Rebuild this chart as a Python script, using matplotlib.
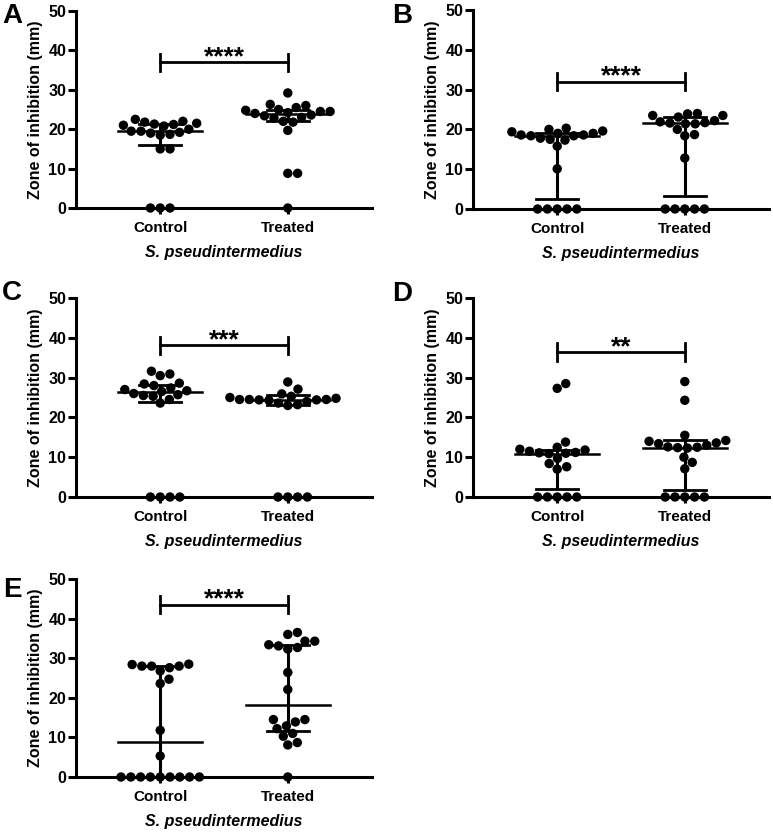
import numpy as np
import matplotlib
matplotlib.use("Agg")
import matplotlib.pyplot as plt

plt.rcParams['font.family'] = ['Liberation Sans', 'DejaVu Sans']
plt.rcParams['font.weight'] = 'bold'

# ---- data ----
panel_labels = ['A', 'B', 'C', 'D', 'E']
groups = ['Control', 'Treated']

control_A = [0, 0, 0, 15.0, 15.0, 18.5, 18.7, 19.0, 19.2, 19.5, 19.5, 20.0,
             20.8, 21.0, 21.2, 21.3, 21.5, 21.8, 22.0, 22.5]
treated_A = [0, 8.8, 8.8, 19.7, 21.8, 22.0, 22.8, 23.0, 23.4, 23.6, 24.0, 24.2,
             24.5, 24.5, 24.8, 25.0, 25.5, 26.0, 26.3, 29.2]
control_B = [0, 0, 0, 0, 0, 10.1, 15.8, 17.3, 17.5, 17.8, 18.4, 18.4, 18.6,
             18.6, 19.0, 19.0, 19.4, 19.6, 20.0, 20.3]
treated_B = [0, 0, 0, 0, 0, 12.8, 18.4, 18.7, 20.0, 21.4, 21.4, 21.6, 21.7,
             21.9, 22.2, 23.1, 23.5, 23.5, 23.9, 24.0]
control_C = [0, 0, 0, 0, 23.6, 24.5, 25.3, 25.5, 25.7, 26.0, 26.5, 26.7, 27.0,
             27.4, 28.0, 28.4, 28.6, 30.5, 30.9, 31.6]
treated_C = [0, 0, 0, 0, 23.0, 23.2, 23.6, 24.0, 24.3, 24.4, 24.4, 24.5, 24.5,
             24.5, 24.8, 25.0, 25.3, 25.9, 27.1, 28.9]
control_D = [0, 0, 0, 0, 0, 7.0, 7.6, 8.4, 9.7, 10.9, 11.0, 11.1, 11.2, 11.5,
             11.8, 12.0, 12.5, 13.8, 27.3, 28.5]
treated_D = [0, 0, 0, 0, 0, 7.1, 8.7, 10.0, 12.3, 12.4, 12.5, 12.6, 13.0, 13.4,
             13.6, 14.0, 14.2, 15.5, 24.3, 29.0]
control_E = [0, 0, 0, 0, 0, 0, 0, 0, 0, 5.3, 11.8, 23.6, 24.7, 26.8, 27.6,
             28.0, 28.0, 28.0, 28.4, 28.5]
treated_E = [0, 8.1, 8.7, 10.3, 11.0, 12.2, 12.9, 13.9, 14.5, 14.5, 22.1, 26.4,
             32.3, 32.7, 33.1, 33.4, 34.3, 34.3, 36.0, 36.5]

# median and interquartile range as drawn (control, treated)
medians = [(19.5, 23.9), (18.3, 21.6), (26.3, 24.4), (10.9, 12.4), (8.8, 18.3)]
q1s = [(16.0, 22.0), (2.6, 3.3), (23.9, 23.2), (1.9, 1.8), (0.0, 11.5)]
q3s = [(21.3, 25.0), (19.0, 23.2), (28.2, 25.6), (11.8, 14.2), (28.0, 33.4)]

stars = ['****', '****', '***', '**', '****']
bar_y = [37.0, 32.0, 38.1, 36.4, 43.5]

all_data = [(control_A, treated_A), (control_B, treated_B), (control_C, treated_C),
            (control_D, treated_D), (control_E, treated_E)]

# ---- layout (pixels) ----
W, H = 773, 832
# left, top(y=50), bottom(y=0) of each axes
boxes = [(76, 11, 208), (473, 10, 209), (76, 298, 497), (473, 298, 497), (76, 579, 777)]
letter_pos = [(2, 3), (392, 3), (2, 280), (392, 281), (3, 577)]
ax_w = 296
xlim = (-0.66, 1.66)
LW = 2.2
DOT = 9.8   # spacing between dot centres, px


def swarm_offsets(ax, x0, vals, diam):
    pts = ax.transData.transform(np.column_stack([np.full(len(vals), x0), vals]))
    ys = pts[:, 1]
    order = np.argsort(ys, kind='stable')
    placed = []
    offs = np.zeros(len(vals))
    for i in order:
        y = ys[i]
        cands = [0.0]
        for px, py in placed:
            dy = y - py
            if abs(dy) < diam:
                dx = np.sqrt(diam ** 2 - dy ** 2)
                cands += [px + dx, px - dx]
        cands.sort(key=abs)
        for c in cands:
            if all((c - px) ** 2 + (y - py) ** 2 >= diam ** 2 - 1e-6 for px, py in placed):
                offs[i] = c
                break
        placed.append((offs[i], y))
    unit = ax.transData.transform((1, 0))[0] - ax.transData.transform((0, 0))[0]
    return offs / unit


fig = plt.figure(figsize=(W / 100, H / 100), dpi=100)

for k in range(5):
    left, top, bottom = boxes[k]
    ax = fig.add_axes([left / W, 1 - bottom / H, ax_w / W, (bottom - top) / H])
    ax.set_xlim(*xlim)
    ax.set_ylim(0, 50)
    for s in ['top', 'right']:
        ax.spines[s].set_visible(False)
    for s in ['left', 'bottom']:
        ax.spines[s].set_linewidth(LW)

    for g in range(2):
        vals = np.array(all_data[k][g], dtype=float)
        offs = swarm_offsets(ax, g, vals, DOT)
        ax.scatter(g + offs, vals, s=46, color='black', edgecolors='none',
                   zorder=3, clip_on=False)
        med, lo, hi = medians[k][g], q1s[k][g], q3s[k][g]
        ax.plot([g, g], [lo, hi], color='black', lw=2.2, zorder=4, solid_capstyle='butt')
        ax.plot([g - 0.165, g + 0.165], [lo, lo], color='black', lw=2.0, zorder=4)
        ax.plot([g - 0.165, g + 0.165], [hi, hi], color='black', lw=2.0, zorder=4)
        ax.plot([g - 0.33, g + 0.33], [med, med], color='black', lw=1.8, zorder=4)

    # significance bracket
    by = bar_y[k]
    ax.plot([0, 1], [by, by], color='black', lw=2.0, clip_on=False)
    for g in range(2):
        ax.plot([g, g], [by - 2.2, by + 2.2], color='black', lw=2.0, clip_on=False)
    ax.text(0.5, by - 0.5, stars[k], ha='center', va='baseline', fontsize=19,
            fontweight='bold', clip_on=False)

    ax.set_yticks([0, 10, 20, 30, 40, 50])
    ax.set_xticks([0, 1])
    ax.set_xticklabels(groups)
    ax.tick_params(axis='y', width=LW, length=5.5, pad=1.5, labelsize=11.5)
    ax.tick_params(axis='x', width=LW, length=4.5, pad=5, labelsize=11)
    for lab in ax.get_xticklabels() + ax.get_yticklabels():
        lab.set_fontweight('bold')
    ax.set_ylabel('Zone of inhibition (mm)', fontsize=11.5, fontweight='bold', labelpad=4)
    ax.set_xlabel('S. pseudintermedius', fontsize=11.5, fontweight='bold',
                  fontstyle='italic', labelpad=7)

    lx, ly = letter_pos[k]
    fig.text(lx / W, 1 - ly / H, panel_labels[k], fontsize=20, fontweight='bold',
             ha='left', va='top')

fig.savefig('out.png', dpi=100)
